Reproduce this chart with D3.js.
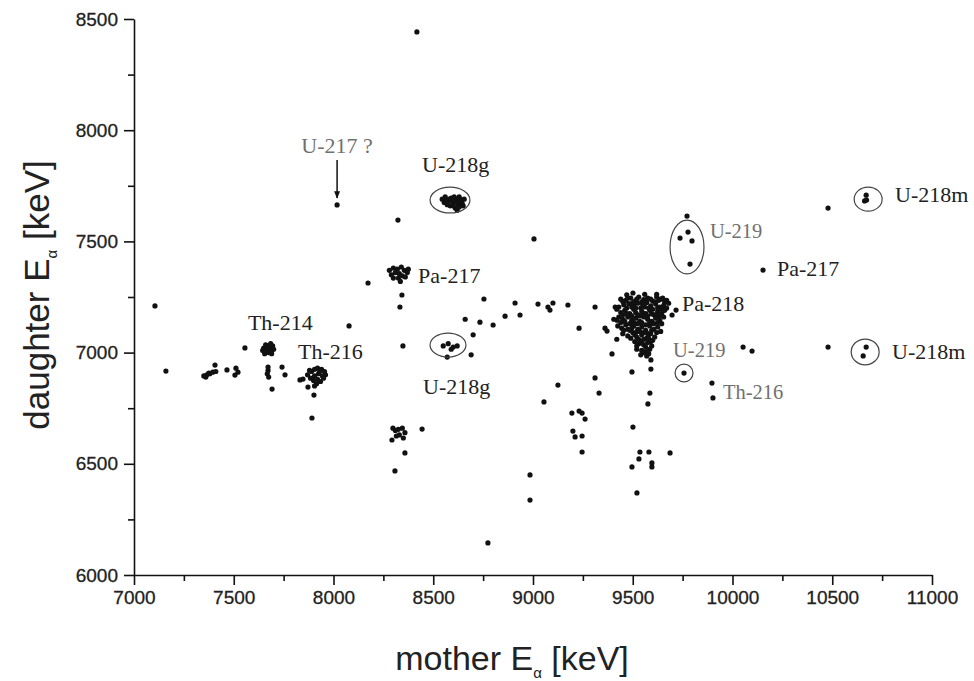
<!DOCTYPE html>
<html><head><meta charset="utf-8">
<script src="https://cdn.jsdelivr.net/npm/d3@7/dist/d3.min.js"></script>
<style>body{margin:0;background:#fff}svg{display:block}</style>
</head><body>
<script>
// ---- data (mother E_alpha, daughter E_alpha) in keV ----
const xTicks = [7000,7500,8000,8500,9000,9500,10000,10500,11000];
const yTicks = [6000,6500,7000,7500,8000,8500];

const th214 = [[7650,7020],[7665,7030],[7680,7025],[7690,7010],[7660,7005],[7675,7000],[7695,7030],[7655,6995],[7685,7040],[7670,7015],[7700,7015],[7645,7010],[7660,7035],[7690,6995]];
const th216 = [[7870,6900],[7890,6915],[7905,6925],[7920,6930],[7940,6925],[7955,6915],[7960,6900],[7945,6895],[7925,6905],[7905,6895],[7885,6885],[7900,6875],[7920,6880],[7935,6870],[7915,6860],[7905,6850],[7950,6885],[7880,6920],[7930,6915]];
const pa217 = [[8280,7370],[8300,7380],[8320,7375],[8340,7385],[8355,7370],[8370,7360],[8330,7355],[8310,7360],[8290,7350],[8345,7345],[8360,7340],[8325,7335],[8375,7375],[8300,7335],[8335,7320]];
const u218g = [[8545,7690],[8560,7700],[8575,7680],[8590,7695],[8600,7670],[8615,7690],[8625,7665],[8640,7680],[8650,7660],[8610,7650],[8585,7660],[8630,7700],[8655,7690],[8570,7665],[8620,7640],
 [8555,7675],[8580,7690],[8595,7680],[8605,7700],[8620,7675],[8635,7690],[8645,7670],[8630,7655],[8600,7660],[8565,7685]];
const pa218 = [[9440,7240],[9465,7235],[9490,7245],[9510,7230],[9530,7250],[9555,7238],[9575,7245],[9600,7232],[9620,7250],[9640,7240],[9660,7228],[9680,7222],
 [9455,7215],[9480,7220],[9505,7212],[9525,7222],[9550,7215],[9570,7225],[9590,7210],[9615,7218],[9635,7205],[9655,7212],[9670,7200],
 [9420,7195],[9440,7180],[9460,7190],[9485,7175],[9505,7195],[9525,7170],[9545,7185],[9565,7175],[9585,7190],[9605,7170],[9625,7185],[9645,7175],
 [9430,7160],[9450,7150],[9475,7160],[9495,7145],[9515,7155],[9535,7140],[9555,7160],[9575,7150],[9595,7140],[9615,7155],[9635,7145],[9655,7160],
 [9425,7120],[9445,7110],[9465,7125],[9485,7100],[9505,7120],[9525,7105],[9545,7115],[9565,7100],[9585,7120],[9605,7105],[9625,7115],[9640,7095],
 [9450,7085],[9475,7075],[9500,7090],[9520,7070],[9545,7080],[9570,7065],[9590,7085],[9610,7070],
 [9510,7050],[9530,7040],[9555,7035],[9575,7045],[9595,7030],[9520,7015],[9545,7010],[9565,7005],[9585,7015],[9540,6990],[9570,6985],
 [9412,7205],[9405,7150],[9420,7060],[9421,7146],
 [9450,7230],[9475,7245],[9500,7225],[9520,7240],[9545,7228],[9565,7235],[9590,7240],[9610,7228],[9630,7235],[9650,7245],[9670,7235],
 [9430,7205],[9470,7200],[9495,7205],[9515,7200],[9540,7200],[9560,7205],[9580,7200],[9600,7195],[9625,7200],[9645,7195],[9660,7190],
 [9450,7170],[9470,7175],[9495,7165],[9515,7180],[9535,7165],[9555,7175],[9575,7165],[9595,7175],[9615,7170],[9635,7165],
 [9440,7135],[9460,7140],[9485,7130],[9505,7135],[9525,7130],[9545,7135],[9565,7125],[9585,7135],[9605,7130],[9625,7135],[9645,7130],
 [9455,7100],[9475,7105],[9495,7110],[9515,7090],[9535,7095],[9555,7090],[9575,7085],[9595,7100],[9620,7090],
 [9490,7065],[9510,7080],[9530,7060],[9555,7060],[9580,7065],[9600,7055],
 [9520,7030],[9545,7045],[9565,7025],[9590,7050],[9555,7000],[9580,6995],[9470,7260],[9560,7262],[9620,7262]];
const lowCluster = [[8298,6660],[8310,6650],[8325,6655],[8345,6660],[8358,6640],[8330,6630],[8315,6625],[8350,6616],[8444,6656],[8293,6607],[8358,6549],[8308,6468]];
const u218gLow = [[8550,7030],[8575,7040],[8600,7025],[8620,7030],[8590,7015],[8570,6980],[8690,6990]];
const scattered = [[8418,8442],[8018,7664],[8323,7596],[7105,7210],[7160,6917],
 [7350,6895],[7365,6900],[7380,6905],[7395,6912],[7410,6915],[7360,6890],[7375,6908],[7406,6944],
 [7466,6922],[7511,6930],[7521,6912],[7506,6899],[7556,7021],[7672,6935],[7672,6920],[7668,6905],[7675,6890],
 [7692,6836],[7742,6935],[7757,6900],[7832,6877],[7847,6881],[7872,6845],[7902,6809],[7892,6706],
 [8078,7120],[8173,7313],[8343,7259],[8333,7205],[8348,7030],[8774,6144],[8985,6450],[8985,6337],
 [9772,7614],[9777,7542],[9737,7515],[9797,7502],[9787,7398],[9005,7511],
 [8754,7241],[8910,7223],[9025,7218],[9075,7205],[9100,7223],[9085,7191],[9175,7214],[9311,7205],
 [8860,7164],[8935,7169],[8800,7124],[8734,7137],[9231,7110],[9361,7110],[9371,7097],[9501,7268],
 [9697,7169],[9717,7191],[8700,7080],[8660,7150],
 [9396,6994],[9496,6913],[9591,6967],[9591,6926],[9311,6886],[9125,6854],[9331,6818],[9055,6778],
 [9586,6818],[9576,6769],[9195,6728],[9231,6737],[9246,6728],[9261,6701],[9200,6647],[9211,6621],
 [9246,6625],[9246,6553],[9501,6665],[9536,6553],[9581,6553],[9687,6549],[9531,6522],[9496,6486],
 [9596,6504],[9596,6486],[9521,6369],[9757,6908],[10053,7025],[10098,7007],[9897,6863],[9902,6796],
 [10479,7650],[10670,7708],[10672,7686],[10662,7682],[10153,7371],[10479,7025],[10670,7025],[10655,6985]];

// annotations: [label, mother, daughter(baseline), colour, size, anchor]
const labels = [["U-217 ?",8018,7897,"#707070",22,"middle"],["U-218g",8444,7812,"#222",22,"start"],
 ["Pa-217",8424,7313,"#222",22,"start"],["Th-214",7571,7101,"#222",22,"start"],["Th-216",7822,6971,"#222",22,"start"],
 ["U-218g",8449,6814,"#222",22,"start"],["U-219",9887,7515,"#707070",20.5,"start"],["Pa-218",9747,7187,"#222",22,"start"],
 ["U-219",9702,6980,"#707070",20.5,"start"],["Th-216",9952,6791,"#707070",20.5,"start"],["U-218m",10815,7677,"#222",22,"start"],
 ["Pa-217",10223,7344,"#222",22,"start"],["U-218m",10800,6971,"#222",22,"start"]];
// ellipses: [mother, daughter, rx(keV), ry(keV)]
const ellipses = [[8584,7686,100,58],[8574,7034,90,54],[9772,7475,85,121],[9757,6908,45,40],[10680,7690,70,54],[10665,7003,70,58]];
const arrow = [[8018,7866],[8018,7695]];

const W=974,H=681;
const x = d3.scaleLinear().domain([7000,11000]).range([134,932]);
const y = d3.scaleLinear().domain([6000,8500]).range([575,19]);
const svg = d3.select("body").append("svg").attr("width",W).attr("height",H);

// axes
const minorX = d3.range(7250,11000,500), minorY = d3.range(6250,8500,500);
const ax = svg.append("g").attr("transform","translate(0,575)");
ax.call(d3.axisBottom(x).tickValues(minorX).tickSize(6).tickSizeOuter(0).tickFormat(""));
ax.call(g=>g.select(".domain").remove());
svg.append("g").attr("transform","translate(0,575)")
  .call(d3.axisBottom(x).tickValues(xTicks).tickSize(10).tickSizeOuter(0).tickPadding(6).tickFormat(d3.format("d")));
const ay = svg.append("g").attr("transform","translate(134,0)");
ay.call(d3.axisLeft(y).tickValues(minorY).tickSize(6).tickSizeOuter(0).tickFormat(""));
ay.call(g=>g.select(".domain").remove());
svg.append("g").attr("transform","translate(134,0)")
  .call(d3.axisLeft(y).tickValues(yTicks).tickSize(10).tickSizeOuter(0).tickPadding(6).tickFormat(d3.format("d")));
svg.selectAll(".tick line,.domain").attr("stroke","#111").attr("stroke-width",1.6);
svg.selectAll(".tick text").attr("font-family","Liberation Sans, Arial, sans-serif").attr("font-size",19)
  .attr("fill","#222").attr("stroke","#222").attr("stroke-width",0.3);

// axis titles
const xt = svg.append("text").attr("x",512).attr("y",670).attr("text-anchor","middle")
  .attr("font-family","Liberation Sans, Arial, sans-serif").attr("font-size",34).attr("fill","#222");
xt.append("tspan").text("mother E");
xt.append("tspan").attr("font-size",15).attr("dy",8).text("α");
xt.append("tspan").attr("dy",-8).text(" [keV]");
const yt = svg.append("text").attr("transform","translate(49,295) rotate(-90)").attr("text-anchor","middle")
  .attr("font-family","Liberation Sans, Arial, sans-serif").attr("font-size",35).attr("fill","#222");
yt.append("tspan").text("daughter E");
yt.append("tspan").attr("font-size",15).attr("dy",8).text("α");
yt.append("tspan").attr("dy",-8).text(" [keV]");

// points
const all = [].concat(th214,th216,pa217,u218g,pa218,lowCluster,u218gLow,scattered);
svg.append("g").selectAll("circle").data(all).join("circle")
  .attr("cx",d=>x(d[0])).attr("cy",d=>y(d[1])).attr("r",2.6).attr("fill","#111");

// ellipses
const kx = (x(11000)-x(7000))/4000, ky = (y(6000)-y(8500))/2500;
svg.append("g").selectAll("ellipse").data(ellipses).join("ellipse")
  .attr("cx",d=>x(d[0])).attr("cy",d=>y(d[1])).attr("rx",d=>d[2]*kx).attr("ry",d=>d[3]*ky)
  .attr("fill","none").attr("stroke","#444").attr("stroke-width",1.2);

// arrow
svg.append("defs").append("marker").attr("id","ah").attr("viewBox","0 0 10 10").attr("refX",9).attr("refY",5)
  .attr("markerWidth",5).attr("markerHeight",7).attr("orient","auto")
  .append("path").attr("d","M0,1 L10,5 L0,9 z").attr("fill","#111");
svg.append("line").attr("x1",x(arrow[0][0])).attr("y1",y(arrow[0][1])).attr("x2",x(arrow[1][0])).attr("y2",y(arrow[1][1]))
  .attr("stroke","#111").attr("stroke-width",1.5).attr("marker-end","url(#ah)");

// labels
svg.append("g").selectAll("text").data(labels).join("text")
  .attr("x",d=>x(d[1])).attr("y",d=>y(d[2])).attr("fill",d=>d[3]).attr("font-size",d=>d[4])
  .attr("text-anchor",d=>d[5]).attr("font-family","Liberation Serif, Times New Roman, serif").text(d=>d[0]);
</script>
</body></html>
